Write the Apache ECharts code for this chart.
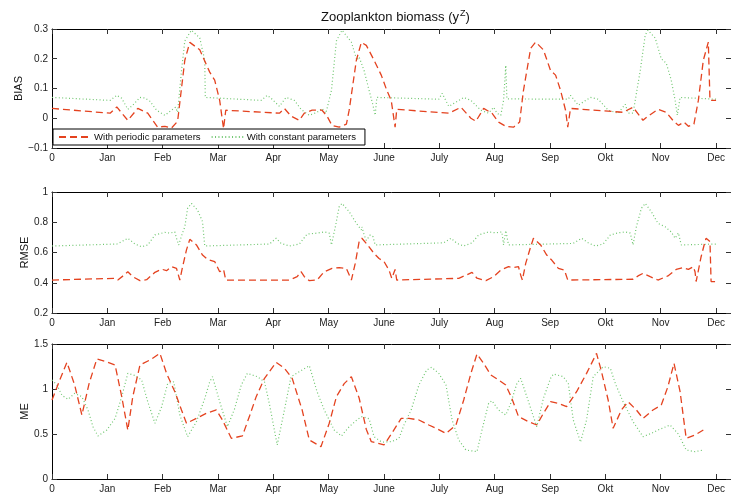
<!DOCTYPE html>
<html>
<head>
<meta charset="utf-8">
<script src="https://cdn.jsdelivr.net/npm/echarts@6/dist/echarts.min.js"></script>
<style>
  html, body { margin: 0; padding: 0; background: #fff; }
  #chart { width: 731px; height: 497px; }
</style>
</head>
<body>
<div id="chart"></div>
<script>
// Month tick labels (x in months since start of record)
const monthLabels = ['0', 'Jan', 'Feb', 'Mar', 'Apr', 'May', 'June', 'July', 'Aug', 'Sep', 'Okt', 'Nov', 'Dec'];

const seriesNames = ['With periodic parameters', 'With constant parameters'];

// BIAS, [month, value]
const biasPeriodic = [[0,0.033],[1.05,0.017],[1.17,0.038],[1.37,-0.007],[1.55,0.033],[1.73,0.017],[1.91,-0.03],[2.04,-0.027],[2.16,-0.033],[2.27,-0.01],[2.40,0.195],[2.49,0.255],[2.67,0.23],[2.85,0.155],[2.94,0.128],[3.03,0.06],[3.10,-0.035],[3.14,0.027],[4.11,0.017],[4.20,0.033],[4.32,0.007],[4.47,-0.007],[4.56,0.017],[4.70,0.027],[4.88,0.027],[4.97,0.007],[5.06,-0.024],[5.19,-0.03],[5.32,-0.02],[5.37,0.027],[5.50,0.195],[5.59,0.255],[5.68,0.245],[5.82,0.195],[5.95,0.145],[6.05,0.094],[6.13,0.06],[6.20,-0.03],[6.23,0.03],[7.17,0.017],[7.39,0.037],[7.57,0.0],[7.66,-0.01],[7.80,0.033],[7.95,0.017],[8.07,-0.013],[8.20,-0.027],[8.34,-0.03],[8.45,-0.013],[8.52,0.094],[8.65,0.235],[8.74,0.256],[8.88,0.23],[9.01,0.16],[9.10,0.145],[9.19,0.094],[9.28,0.027],[9.32,-0.03],[9.37,0.033],[10.32,0.02],[10.50,0.037],[10.68,-0.007],[10.77,0.007],[10.95,0.03],[11.10,0.02],[11.22,-0.007],[11.32,-0.024],[11.42,-0.013],[11.50,-0.027],[11.60,-0.02],[11.68,0.06],[11.77,0.195],[11.86,0.256],[11.89,0.06],[12.0,0.06]];
const biasConstant = [[0,0.07],[1.05,0.06],[1.17,0.077],[1.26,0.067],[1.37,0.03],[1.46,0.044],[1.59,0.07],[1.68,0.068],[1.77,0.057],[1.89,0.027],[2.04,0.01],[2.16,0.027],[2.23,0.037],[2.27,0.02],[2.34,0.16],[2.40,0.26],[2.52,0.296],[2.67,0.27],[2.76,0.195],[2.77,0.07],[3.78,0.06],[3.89,0.077],[3.96,0.067],[4.11,0.04],[4.23,0.07],[4.38,0.06],[4.50,0.03],[4.65,0.01],[4.79,0.02],[4.88,0.033],[4.95,0.017],[5.05,0.094],[5.14,0.26],[5.24,0.296],[5.41,0.256],[5.51,0.195],[5.55,0.206],[5.64,0.16],[5.73,0.094],[5.80,0.044],[5.84,0.01],[5.87,0.07],[6.99,0.064],[7.05,0.084],[7.17,0.04],[7.26,0.05],[7.44,0.07],[7.57,0.06],[7.75,0.027],[7.89,0.017],[7.98,0.037],[8.04,0.017],[8.11,0.01],[8.16,0.06],[8.20,0.178],[8.22,0.065],[9.33,0.064],[9.37,0.077],[9.51,0.044],[9.73,0.07],[9.87,0.064],[10.05,0.027],[10.23,0.017],[10.36,0.047],[10.41,0.017],[10.50,0.017],[10.63,0.16],[10.72,0.28],[10.77,0.296],[10.90,0.27],[11.01,0.2],[11.10,0.185],[11.19,0.128],[11.26,0.06],[11.30,0.01],[11.35,0.07],[12.0,0.064]];

// RMSE, [month, value]
const rmsePeriodic = [[0,0.418],[1.14,0.429],[1.19,0.418],[1.32,0.456],[1.37,0.473],[1.46,0.44],[1.59,0.414],[1.71,0.42],[1.86,0.469],[1.98,0.49],[2.07,0.48],[2.16,0.506],[2.25,0.495],[2.31,0.418],[2.36,0.506],[2.43,0.617],[2.49,0.687],[2.61,0.65],[2.72,0.583],[2.81,0.555],[2.94,0.54],[3.03,0.473],[3.10,0.488],[3.14,0.418],[4.29,0.418],[4.43,0.44],[4.50,0.473],[4.56,0.44],[4.65,0.414],[4.79,0.418],[4.92,0.473],[5.06,0.495],[5.19,0.5],[5.32,0.495],[5.41,0.418],[5.48,0.528],[5.55,0.672],[5.60,0.694],[5.68,0.66],[5.82,0.594],[5.91,0.56],[6.00,0.54],[6.09,0.484],[6.14,0.429],[6.20,0.488],[6.23,0.418],[7.35,0.429],[7.48,0.45],[7.59,0.469],[7.68,0.43],[7.84,0.414],[7.98,0.44],[8.11,0.484],[8.25,0.506],[8.34,0.5],[8.43,0.506],[8.47,0.45],[8.50,0.418],[8.56,0.528],[8.65,0.638],[8.70,0.694],[8.83,0.65],[8.94,0.583],[9.03,0.55],[9.15,0.495],[9.26,0.484],[9.32,0.418],[10.50,0.423],[10.59,0.445],[10.68,0.462],[10.81,0.44],[10.95,0.418],[11.13,0.445],[11.28,0.488],[11.41,0.5],[11.50,0.488],[11.59,0.506],[11.62,0.473],[11.64,0.408],[11.73,0.572],[11.80,0.672],[11.82,0.694],[11.89,0.672],[11.91,0.408],[12.0,0.408]];
const rmseConstant = [[0,0.643],[1.17,0.656],[1.26,0.672],[1.37,0.694],[1.50,0.656],[1.62,0.638],[1.73,0.65],[1.86,0.716],[2.04,0.733],[2.13,0.728],[2.22,0.736],[2.25,0.694],[2.29,0.65],[2.34,0.71],[2.40,0.77],[2.45,0.892],[2.52,0.925],[2.63,0.88],[2.72,0.804],[2.76,0.643],[3.93,0.656],[4.05,0.694],[4.14,0.66],[4.29,0.643],[4.47,0.656],[4.61,0.722],[4.79,0.728],[4.92,0.736],[5.01,0.728],[5.05,0.65],[5.12,0.77],[5.19,0.903],[5.24,0.925],[5.37,0.87],[5.50,0.793],[5.59,0.75],[5.60,0.77],[5.64,0.716],[5.68,0.68],[5.75,0.716],[5.80,0.705],[5.84,0.65],[7.08,0.664],[7.21,0.694],[7.32,0.66],[7.44,0.643],[7.59,0.664],[7.71,0.716],[7.89,0.736],[8.02,0.73],[8.13,0.736],[8.16,0.65],[8.20,0.745],[8.25,0.65],[9.42,0.66],[9.57,0.694],[9.69,0.664],[9.82,0.643],[9.96,0.656],[10.09,0.716],[10.23,0.73],[10.36,0.736],[10.45,0.728],[10.50,0.65],[10.56,0.77],[10.65,0.892],[10.72,0.925],[10.83,0.87],[10.95,0.793],[11.08,0.77],[11.19,0.736],[11.26,0.694],[11.32,0.73],[11.37,0.65],[12.0,0.656]];

// ME, [month, value]
const mePeriodic = [[0,0.878],[0.14,1.1],[0.27,1.296],[0.41,1.044],[0.54,0.711],[0.67,1.06],[0.81,1.333],[0.97,1.304],[1.14,1.267],[1.26,0.915],[1.37,0.544],[1.46,0.915],[1.59,1.267],[1.77,1.322],[1.95,1.396],[2.07,1.174],[2.22,0.97],[2.34,0.767],[2.43,0.619],[2.61,0.674],[2.79,0.73],[2.97,0.767],[3.08,0.656],[3.24,0.452],[3.44,0.478],[3.57,0.7],[3.69,0.915],[3.84,1.119],[4.05,1.296],[4.20,1.23],[4.34,1.119],[4.52,0.767],[4.65,0.433],[4.86,0.359],[5.01,0.619],[5.14,0.915],[5.28,1.06],[5.41,1.137],[5.55,0.9],[5.68,0.55],[5.77,0.415],[6.00,0.378],[6.14,0.507],[6.31,0.674],[6.45,0.674],[6.63,0.656],[6.81,0.6],[6.95,0.56],[7.12,0.507],[7.30,0.6],[7.44,0.878],[7.57,1.174],[7.68,1.389],[7.80,1.285],[7.93,1.156],[8.07,1.1],[8.20,1.044],[8.31,0.896],[8.43,0.693],[8.61,0.637],[8.76,0.6],[8.88,0.73],[9.01,0.859],[9.15,0.841],[9.30,0.804],[9.48,0.97],[9.66,1.174],[9.84,1.396],[9.93,1.193],[10.05,0.878],[10.14,0.563],[10.29,0.767],[10.41,0.859],[10.56,0.767],[10.68,0.674],[10.86,0.767],[11.01,0.822],[11.13,1.026],[11.24,1.285],[11.35,0.97],[11.46,0.452],[11.62,0.489],[11.77,0.544]];
const meConstant = [[0,1.1],[0.09,1.044],[0.18,0.93],[0.29,0.885],[0.41,0.952],[0.54,0.915],[0.65,0.767],[0.74,0.581],[0.83,0.478],[0.99,0.544],[1.14,0.674],[1.26,0.915],[1.37,1.174],[1.50,1.15],[1.62,1.1],[1.73,0.859],[1.86,0.619],[1.98,0.8],[2.09,1.06],[2.20,1.08],[2.31,0.711],[2.45,0.47],[2.61,0.637],[2.76,0.893],[2.85,1.08],[2.90,1.137],[3.03,0.859],[3.17,0.581],[3.30,0.78],[3.42,1.044],[3.53,1.174],[3.71,1.137],[3.84,1.08],[3.93,0.83],[4.07,0.378],[4.20,0.767],[4.32,1.137],[4.47,1.193],[4.65,1.259],[4.79,0.97],[4.92,0.767],[5.10,0.544],[5.23,0.478],[5.37,0.581],[5.51,0.656],[5.60,0.693],[5.73,0.67],[5.82,0.47],[5.96,0.41],[6.14,0.415],[6.27,0.452],[6.36,0.6],[6.49,0.767],[6.63,1.044],[6.77,1.211],[6.86,1.241],[6.99,1.174],[7.12,1.044],[7.23,0.656],[7.35,0.433],[7.48,0.322],[7.68,0.304],[7.77,0.544],[7.89,0.841],[7.95,0.87],[8.07,0.767],[8.20,0.711],[8.29,0.841],[8.40,1.06],[8.47,1.119],[8.58,0.915],[8.70,0.693],[8.76,0.581],[8.88,0.896],[9.01,1.119],[9.06,1.167],[9.24,1.137],[9.33,1.06],[9.42,0.656],[9.55,0.41],[9.66,0.656],[9.78,1.137],[9.96,1.248],[10.09,1.23],[10.18,1.06],[10.32,0.859],[10.50,0.637],[10.68,0.47],[10.83,0.507],[10.95,0.544],[11.17,0.6],[11.32,0.5],[11.46,0.322],[11.62,0.304],[11.77,0.322]];

// Panel definitions: y label, y range and tick step
const panels = [
  { name: 'BIAS', min: -0.1, max: 0.3, step: 0.1, top: 29, height: 119, nameGap: 28, data: [biasPeriodic, biasConstant] },
  { name: 'RMSE', min: 0.2, max: 1, step: 0.2, top: 192, height: 121, nameGap: 22, data: [rmsePeriodic, rmseConstant] },
  { name: 'ME', min: 0, max: 1.5, step: 0.5, top: 344, height: 135, nameGap: 22, data: [mePeriodic, meConstant] }
];

const X_MAX = 12.27;
const FONT = 'Liberation Sans, Arial, Helvetica, sans-serif';
const RED = '#e4421f';
const GREEN = '#6fc66f';

const boxLine = { show: true, onZero: false, lineStyle: { color: '#000', width: 1 } };
const innerTick = { show: true, inside: true, length: 5, lineStyle: { color: '#333', width: 1 } };

const grid = [], xAxis = [], yAxis = [], series = [];
panels.forEach((p, g) => {
  grid.push({ left: 52, width: 681, top: p.top, height: p.height, containLabel: false });
  // bottom axis with month labels
  xAxis.push({
    type: 'value', gridIndex: g, min: 0, max: X_MAX, interval: 1, position: 'bottom',
    axisLine: boxLine, axisTick: innerTick, splitLine: { show: false },
    axisLabel: {
      show: true, margin: 5, fontSize: 10, color: '#222', fontFamily: FONT,
      showMaxLabel: false,
      formatter: v => (Math.abs(v - Math.round(v)) < 1e-6 ? (monthLabels[Math.round(v)] || '') : '')
    }
  });
  // top axis: ticks only
  xAxis.push({
    type: 'value', gridIndex: g, min: 0, max: X_MAX, interval: 1, position: 'top',
    axisLine: boxLine, axisTick: innerTick, splitLine: { show: false }, axisLabel: { show: false }
  });
  yAxis.push({
    type: 'value', gridIndex: g, min: p.min, max: p.max, interval: p.step, position: 'left',
    name: p.name, nameLocation: 'middle', nameRotate: 90, nameGap: p.nameGap,
    nameMoveOverlap: false,
    nameTextStyle: { fontSize: 11, color: '#111', fontFamily: FONT },
    axisLine: boxLine, axisTick: innerTick, splitLine: { show: false },
    axisLabel: {
      margin: 4, fontSize: 10, color: '#222', fontFamily: FONT,
      formatter: v => String(parseFloat(v.toFixed(3))).replace('-', '\u2212')
    }
  });
  yAxis.push({
    type: 'value', gridIndex: g, min: p.min, max: p.max, interval: p.step, position: 'right',
    axisLine: boxLine, axisTick: innerTick, splitLine: { show: false }, axisLabel: { show: false }
  });
  p.data.forEach((d, k) => {
    series.push({
      name: seriesNames[k], type: 'line', data: d,
      xAxisIndex: 2 * g, yAxisIndex: 2 * g,
      symbol: 'none', smooth: false, clip: true,
      lineStyle: k === 0
        ? { color: RED, width: 1.3, type: [7, 4] }
        : { color: GREEN, width: 1.2, type: [1, 2.4] },
      itemStyle: { color: k === 0 ? RED : GREEN },
      z: k === 0 ? 3 : 2
    });
  });
});

const chart = echarts.init(document.getElementById('chart'), null, { renderer: 'canvas' });
chart.setOption({
  animation: false,
  backgroundColor: '#fff',
  title: {
    text: 'Zooplankton biomass (y{sup|Z})',
    left: 316, top: 4,
    textStyle: {
      fontSize: 13, fontWeight: 'normal', color: '#111', fontFamily: FONT,
      rich: { sup: { fontSize: 9, fontFamily: FONT, color: '#111', padding: [0, 0, 8, 1] } }
    }
  },
  legend: {
    data: seriesNames,
    left: 53, top: 129,
    orient: 'horizontal',
    itemWidth: 32, itemHeight: 10, itemGap: 10,
    padding: [3, 9, 3, 5],
    backgroundColor: '#fff', borderColor: '#000', borderWidth: 1, borderRadius: 0,
    // line-only legend keys (no point marker)
    itemStyle: { opacity: 0 },
    textStyle: { fontSize: 9.6, color: '#111', fontFamily: FONT, padding: [0, 0, 0, -2] },
    z: 10
  },
  grid, xAxis, yAxis, series
});
</script>
</body>
</html>
